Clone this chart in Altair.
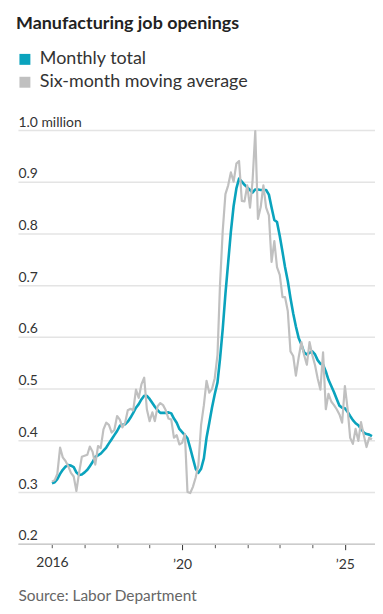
import altair as alt
import pandas as pd

FONT = "Lato"

months = pd.date_range("2016-01-01", periods=119, freq="MS")

# Six-month moving average (smooth, teal line — labelled "Monthly total" in the legend)
teal = [
    0.317, 0.319, 0.325, 0.335, 0.343, 0.349, 0.352, 0.351, 0.348, 0.338, 0.333, 0.334,
    0.338, 0.343, 0.350, 0.358, 0.368, 0.371, 0.374, 0.380, 0.386, 0.394, 0.402, 0.410,
    0.418, 0.428, 0.430, 0.431, 0.436, 0.444, 0.453, 0.463, 0.470, 0.479, 0.486, 0.486,
    0.480, 0.472, 0.465, 0.458, 0.453, 0.453, 0.453, 0.454, 0.452, 0.442, 0.434, 0.422,
    0.416, 0.410, 0.404, 0.385, 0.365, 0.345, 0.337, 0.345, 0.365, 0.405, 0.434, 0.463,
    0.489, 0.512, 0.557, 0.616, 0.683, 0.744, 0.803, 0.853, 0.887, 0.906, 0.900, 0.894,
    0.889, 0.884, 0.879, 0.885, 0.885, 0.884, 0.884, 0.884, 0.875, 0.850, 0.826, 0.822,
    0.795, 0.764, 0.735, 0.708, 0.675, 0.645, 0.620, 0.598, 0.585, 0.570, 0.566, 0.569,
    0.572, 0.566, 0.555, 0.548, 0.546, 0.533, 0.517, 0.505, 0.493, 0.480, 0.467, 0.463,
    0.462, 0.455, 0.447, 0.439, 0.433, 0.429, 0.422, 0.415, 0.412, 0.411, 0.408,
]

# Monthly readings (noisy, gray line — labelled "Six-month moving average" in the legend)
gray = [
    0.320, 0.323, 0.335, 0.386, 0.367, 0.360, 0.350, 0.337, 0.330, 0.302, 0.338, 0.368,
    0.370, 0.372, 0.388, 0.378, 0.353, 0.389, 0.385, 0.421, 0.434, 0.430, 0.415, 0.420,
    0.447, 0.440, 0.425, 0.434, 0.458, 0.461, 0.458, 0.498, 0.482, 0.508, 0.521, 0.460,
    0.437, 0.454, 0.437, 0.466, 0.472, 0.468, 0.458, 0.442, 0.440, 0.405, 0.410, 0.392,
    0.395, 0.412, 0.300, 0.298, 0.310, 0.328, 0.352, 0.430, 0.468, 0.515, 0.492, 0.499,
    0.520, 0.565, 0.700, 0.806, 0.876, 0.893, 0.918, 0.900, 0.935, 0.940, 0.863, 0.862,
    0.893, 0.850, 0.900, 0.998, 0.828, 0.851, 0.893, 0.850, 0.835, 0.745, 0.785, 0.735,
    0.720, 0.677, 0.677, 0.650, 0.572, 0.563, 0.525, 0.560, 0.590, 0.565, 0.546, 0.590,
    0.565, 0.545, 0.520, 0.498, 0.570, 0.460, 0.490, 0.475, 0.468, 0.460, 0.450, 0.434,
    0.505, 0.460, 0.405, 0.393, 0.422, 0.399, 0.435, 0.410, 0.387, 0.405, 0.402,
]

series_names = ["Monthly total", "Six-month moving average"]
series_colors = ["#0aa3bd", "#c0c0c0"]
line_widths = [2.6, 2.2]
y_ticks = [0.2, 0.3, 0.4, 0.5, 0.6, 0.7, 0.8, 0.9, 1.0]
x_tick_years = list(range(2016, 2026))

df = pd.concat([
    pd.DataFrame({"date": months, "value": teal, "line": series_names[0], "order": 1}),
    pd.DataFrame({"date": months, "value": gray, "line": series_names[1], "order": 0}),
])
legend_df = pd.DataFrame({"series": series_names})

x_enc = alt.X(
    "date:T",
    scale=alt.Scale(domain=[alt.DateTime(year=2014, month=12, date=15),
                            alt.DateTime(year=2025, month=12, date=5)]),
    axis=alt.Axis(
        values=[alt.DateTime(year=y, month=1, date=1) for y in x_tick_years],
        labelExpr="year(datum.value) == 2016 ? '2016' : year(datum.value) == 2020 ? '’20' : year(datum.value) == 2025 ? '’25' : ''",
        grid=False,
        domainColor="#cccccc",
        domainWidth=1.5,
        tickColor={"condition": {"test": "year(datum.value) == 2020 || year(datum.value) == 2025", "value": "#333333"}, "value": "#555555"},
        tickSize={"condition": {"test": "year(datum.value) == 2020 || year(datum.value) == 2025", "value": 6}, "value": 4},
        tickWidth=1,
        labelPadding=8,
        labelFont=FONT,
        labelFontSize=14,
        labelColor="#333333",
        labelFlush=False,
        labelOverlap=False,
        title="Source: Labor Department",
        titleFont=FONT,
        titleFontSize=15.5,
        titleFontWeight="normal",
        titleColor="#666666",
        titleAnchor="start",
        titleAlign="left",
        titleBaseline="alphabetic",
        titleX=0,
        titleY=57,
    ),
)

y_enc = alt.Y(
    "value:Q",
    scale=alt.Scale(domain=[0.2, 1.0], nice=False, zero=False),
    axis=alt.Axis(
        values=y_ticks,
        labelExpr="datum.value >= 0.99 ? '1.0 million' : format(datum.value, '.1f')",
        orient="left",
        ticks=False,
        domain=False,
        labelAlign="left",
        labelBaseline="alphabetic",
        labelPadding=0,
        labelOffset=-4,
        labelFont=FONT,
        labelFontSize=14,
        labelColor="#333333",
        labelFlush=False,
        labelOverlap=False,
        gridColor="#e4e4e4",
        gridWidth=1.5,
        title=None,
    ),
)

lines = alt.Chart(df).mark_line(strokeJoin="round").encode(
    x=x_enc,
    y=y_enc,
    stroke=alt.Stroke("line:N", scale=alt.Scale(domain=series_names, range=series_colors), legend=None),
    strokeWidth=alt.StrokeWidth("line:N", scale=alt.Scale(domain=series_names, range=line_widths), legend=None),
    order=alt.Order("order:Q"),
    detail="line:N",
)

legend_layer = alt.Chart(legend_df).mark_square(filled=True, opacity=0).encode(
    fill=alt.Fill(
        "series:N",
        scale=alt.Scale(domain=series_names, range=series_colors),
        legend=alt.Legend(
            orient="none",
            legendX=-2,
            legendY=-80,
            title=None,
            symbolType="square",
            symbolSize=121,
            symbolOpacity=1,
            symbolStrokeWidth=0,
            labelFont=FONT,
            labelFontSize=18,
            labelColor="#333333",
            labelLimit=400,
            rowPadding=5,
            labelOffset=6,
        ),
    ),
)

chart = alt.layer(lines, legend_layer).resolve_scale(fill="independent", stroke="independent").properties(
    width=359,
    height=416,
    padding={"left": 8, "top": 5, "right": 0, "bottom": 8},
    title=alt.TitleParams(
        "Manufacturing job openings",
        anchor="start",
        font=FONT,
        fontSize=18,
        fontWeight="bold",
        color="#222222",
        offset=18,
    ),
).configure_view(stroke=None)

chart.save("out.html", embed_options={"renderer": "svg", "actions": False})
